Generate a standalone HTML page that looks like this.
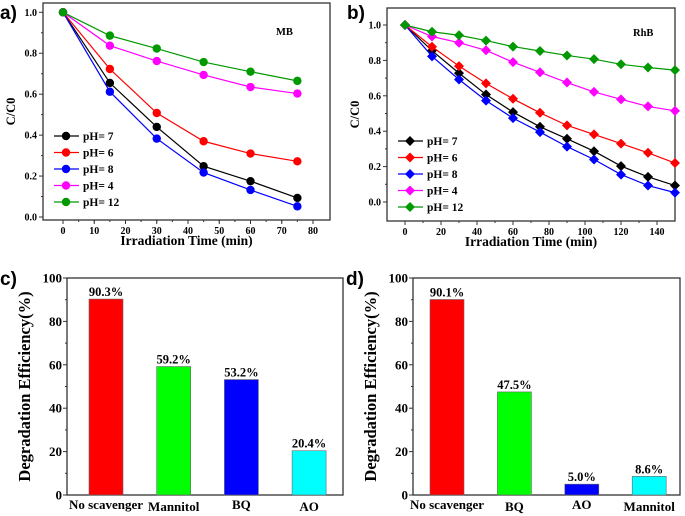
<!DOCTYPE html>
<html><head><meta charset="utf-8"><style>
html,body{margin:0;padding:0;background:#fff}
svg{display:block;font-family:"Liberation Serif",serif;font-weight:bold}
.lab{font-family:"Liberation Sans",sans-serif;font-weight:bold}
</style></head><body>
<svg id="s" width="685" height="516" viewBox="0 0 685 516"></svg>
<script>
const timesA=[0,15,30,45,60,75];
const seriesNames=["pH= 7","pH= 6","pH= 8","pH= 4","pH= 12"];
const seriesColors=["#000","#f00","#00f","#f0f","#090"];
const valsA=[[1,0.655,0.44,0.248,0.175,0.093],[1,0.723,0.508,0.37,0.31,0.272],[1,0.612,0.383,0.217,0.132,0.052],[1,0.837,0.762,0.694,0.635,0.603],[1,0.886,0.823,0.757,0.71,0.665]];
const timesB=[0,15,30,45,60,75,90,105,120,135,150];
const valsB=[[1,0.855,0.728,0.607,0.508,0.425,0.357,0.287,0.203,0.142,0.093],[1,0.877,0.768,0.67,0.583,0.504,0.433,0.382,0.33,0.278,0.22],[1,0.823,0.692,0.573,0.474,0.395,0.313,0.24,0.155,0.093,0.053],[1,0.935,0.9,0.857,0.79,0.733,0.675,0.622,0.58,0.54,0.515],[1,0.962,0.942,0.912,0.878,0.853,0.828,0.807,0.778,0.76,0.745]];
const catsC=["No scavenger","Mannitol","BQ","AO"];
const valsC=[90.3,59.2,53.2,20.4];
const colsC=["#f00","#0f0","#00f","#0ff"];
const catsD=["No scavenger","BQ","AO","Mannitol"];
const valsD=[90.1,47.5,5.0,8.6];
const colsD=["#f00","#0f0","#00f","#0ff"];
const xTicksA=[0,10,20,30,40,50,60,70,80];
const xTicksB=[0,20,40,60,80,100,120,140];
const yTicksLine=[0,0.2,0.4,0.6,0.8,1.0];
const yTicksBar=[0,20,40,60,80,100];

const S=document.getElementById('s');
const NS="http://www.w3.org/2000/svg";
function el(tag,attrs,parent,txt){const e=document.createElementNS(NS,tag);for(const k in attrs)e.setAttribute(k,attrs[k]);if(txt!==undefined)e.textContent=txt;(parent||S).appendChild(e);return e;}

function linePanel(o){
  const g=el('g',{});
  
  
  const X=v=>o.x0+(v-o.xmin)*(o.x1-o.x0)/(o.xmax-o.xmin);
  const Y=v=>o.y0+v*(o.y1-o.y0);
  el('rect',{x:o.bl,y:o.bt,width:o.br-o.bl,height:o.bb-o.bt,fill:'none',stroke:'#333','stroke-width':1.3},g);
  o.xt.forEach(t=>{const x=X(t);el('line',{x1:x,x2:x,y1:o.bb,y2:o.bb+4,stroke:'#333'},g);el('text',{x:x,y:o.bb+14,'font-size':10,'text-anchor':'middle'},g,t);});
  for(let t=o.xmin;t<=o.xmax;t+=o.minor){const x=X(t);if(x>o.bl&&x<o.br)el('line',{x1:x,x2:x,y1:o.bb,y2:o.bb+2,stroke:'#333'},g);}
  yTicksLine.forEach(t=>{const y=Y(t);el('line',{x1:o.bl-4,x2:o.bl,y1:y,y2:y,stroke:'#333'},g);el('text',{x:o.bl-6,y:y+3.5,'font-size':10,'text-anchor':'end'},g,t.toFixed(1));});
  for(let t=0.1;t<1.05;t+=0.2){const y=Y(t);el('line',{x1:o.bl-2,x2:o.bl,y1:y,y2:y,stroke:'#333'},g);}
  el('text',{x:(o.bl+o.br)/2,y:o.bb+25,'font-size':13.5,'text-anchor':'middle'},g,'Irradiation Time (min)');
  el('text',{x:0,y:0,'font-size':12.5,'text-anchor':'middle',transform:`translate(${o.bl-28},${(o.bt+o.bb)/2}) rotate(-90)`},g,'C/C0');
  el('text',{x:o.tagx,y:o.tagy,'font-size':10.5},g,o.tag);
  el('text',{x:o.lx,y:o.ly,'font-size':19,class:'lab'},g,o.letter);
  o.vals.forEach((s,i)=>{
    const pts=s.map((v,j)=>X(o.times[j])+','+Y(v)).join(' ');
    const l=el('polyline',{points:pts,fill:'none',stroke:seriesColors[i],'stroke-width':1.2},g);
    
    
    s.forEach((v,j)=>{const x=X(o.times[j]),y=Y(v);
      if(o.diamond)el('polygon',{points:`${x},${y-5} ${x+5},${y} ${x},${y+5} ${x-5},${y}`,fill:seriesColors[i]},g);
      else el('circle',{cx:x,cy:y,r:4.2,fill:seriesColors[i]},g);});
  });
  seriesNames.forEach((n,i)=>{const y=o.legy+i*16.5;const lx=o.legx;
    el('line',{x1:lx,x2:lx+25,y1:y,y2:y,stroke:seriesColors[i],'stroke-width':1.2},g);
    if(o.diamond)el('polygon',{points:`${lx+12},${y-5} ${lx+17},${y} ${lx+12},${y+5} ${lx+7},${y}`,fill:seriesColors[i]},g);
    else el('circle',{cx:lx+12,cy:y,r:4.2,fill:seriesColors[i]},g);
    el('text',{x:lx+29,y:y+4,'font-size':11.5},g,n);});
}
linePanel({name:'panel-a',letter:'a)',lx:0,ly:19,tag:'MB',tagx:276,tagy:35,bl:43,br:330,bt:3,bb:220,x0:63,x1:313,xmin:0,xmax:80,minor:5,xt:xTicksA,y0:217,y1:12.3,times:timesA,vals:valsA,legx:54,legy:136,diamond:false});
linePanel({name:'panel-b',letter:'b)',lx:347,ly:19,tag:'RhB',tagx:633,tagy:36,bl:387,br:675,bt:8,bb:221,x0:405,x1:657,xmin:0,xmax:140,minor:10,xt:xTicksB,y0:202,y1:25,times:timesB,vals:valsB,legx:398,legy:141,diamond:true});

function barPanel(o){
  const g=el('g',{});
  
  
  const Y=v=>o.y0-v*(o.y0-o.y100)/100;
  el('rect',{x:o.bl,y:o.y100,width:o.br-o.bl,height:o.y0-o.y100,fill:'none',stroke:'#333','stroke-width':1.3},g);
  yTicksBar.forEach(t=>{const y=Y(t);el('line',{x1:o.bl-4,x2:o.bl,y1:y,y2:y,stroke:'#333'},g);el('text',{x:o.bl-5,y:y+4.5,'font-size':13,'text-anchor':'end'},g,t);});
  for(let t=10;t<100;t+=20){const y=Y(t);el('line',{x1:o.bl-2,x2:o.bl,y1:y,y2:y,stroke:'#333'},g);}
  el('text',{x:0,y:0,'font-size':16.5,'text-anchor':'middle',transform:`translate(${o.bl-37},${(o.y0+o.y100)/2}) rotate(-90)`},g,'Degradation Efficiency(%)');
  el('text',{x:o.lx,y:o.ly,'font-size':19,class:'lab'},g,o.letter);
  o.vals.forEach((v,i)=>{const cx=o.c0+i*o.step;
    const r=el('rect',{x:cx-17,y:Y(v),width:34,height:o.y0-Y(v),fill:o.cols[i],stroke:'#666','stroke-width':0.6},g);
    
    
    el('text',{x:cx,y:Y(v)-3,'font-size':12.5,'text-anchor':'middle'},g,v.toFixed(1)+'%');
    el('text',{x:cx,y:o.y0+14+(i%2?2:0),'font-size':13,'text-anchor':'middle'},g,o.cats[i]);
  });
}
barPanel({name:'panel-c',letter:'c)',lx:0,ly:285,bl:67,br:343,y0:495,y100:278,c0:106,step:67.7,vals:valsC,cats:catsC,cols:colsC});
barPanel({name:'panel-d',letter:'d)',lx:346,ly:285,bl:413,br:680,y0:495,y100:278,c0:447,step:67.4,vals:valsD,cats:catsD,cols:colsD});
</script>
</body></html>
